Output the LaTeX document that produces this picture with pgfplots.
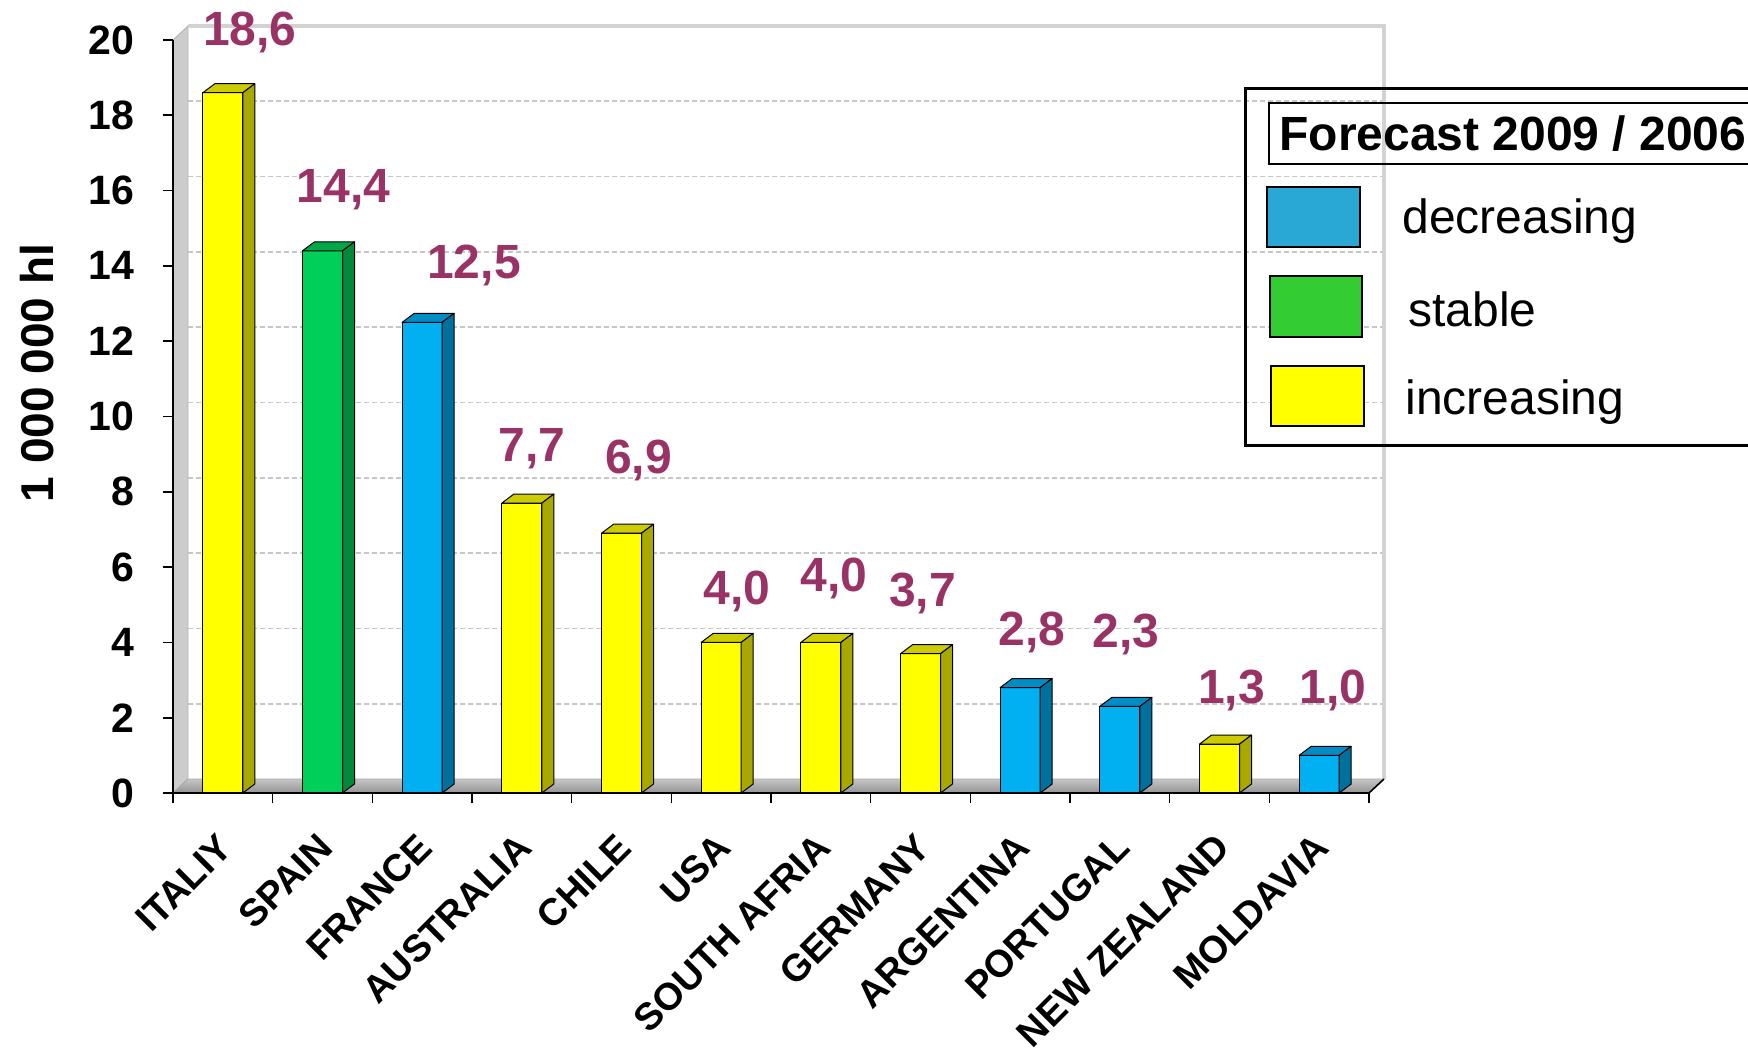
\documentclass[border=0pt]{standalone}
\usepackage{fontspec}
\setmainfont{Liberation Sans}
\usepackage{pgfplots}
\usepackage{pgfplotstable}
\pgfplotsset{compat=1.18}

\definecolor{yfront}{RGB}{255,255,0}
\definecolor{ytop}{RGB}{204,204,0}
\definecolor{yside}{RGB}{168,168,0}
\definecolor{gfront}{RGB}{0,208,90}
\definecolor{gtop}{RGB}{0,168,72}
\definecolor{gside}{RGB}{0,138,58}
\definecolor{bfront}{RGB}{0,176,240}
\definecolor{btop}{RGB}{0,140,196}
\definecolor{bside}{RGB}{0,112,156}
\definecolor{labc}{RGB}{153,51,102}
\definecolor{legb}{RGB}{41,168,214}
\definecolor{legg}{RGB}{51,204,51}

% top and side faces of a bar; height taken from the point meta (mapped 0..20 -> 0..1000)
\newcommand\defboxmark[3]{%
 \pgfdeclareplotmark{#1}{%
  \pgfmathsetmacro\hh{\pgfplotspointmetatransformed*0.3765}%
  \path[fill=#2,draw=black,line width=0.5pt,line join=round] (-10pt,0pt) -- (10pt,0pt) -- (16pt,4.5pt) -- (-4pt,4.5pt) -- cycle;
  \path[fill=#3,draw=black,line width=0.5pt,line join=round] (10pt,0pt) -- (16pt,4.5pt) -- (16pt,{4.5pt-\hh pt}) -- (10pt,{-\hh pt}) -- cycle;
 }}
\defboxmark{boxY}{ytop}{yside}
\defboxmark{boxG}{gtop}{gside}
\defboxmark{boxB}{btop}{bside}

\pgfplotstableread{
x v
0 18.6
3 7.7
4 6.9
5 4.0
6 4.0
7 3.7
10 1.3
}\yel
\pgfplotstableread{
x v
1 14.4
}\gre
\pgfplotstableread{
x v
2 12.5
8 2.8
9 2.3
11 1.0
}\blu
\pgfplotstableread{
x y label
0.27 20.20 18,6
1.21 16.02 14,4
2.52 14.02 12,5
3.10 9.14 7,7
4.17 8.84 6,9
5.16 5.35 4,0
6.13 5.71 4,0
7.02 5.29 3,7
8.12 4.26 2,8
9.06 4.21 2,3
10.12 2.72 1,3
11.14 2.72 1,0
}\labs

\begin{document}
\begin{tikzpicture}
\begin{axis}[
  scale only axis, width=598pt, height=376.5pt,
  xmin=-0.5, xmax=11.5, ymin=0, ymax=20,
  clip=false, axis on top,
  axis x line*=bottom, axis y line*=left,
  axis line style={black, line width=0.9pt},
  tick style={black, line width=0.8pt},
  tick align=outside, major tick length=5pt,
  xtick={-0.5,0.5,...,11.5},
  xticklabels={},
  extra x ticks={0,1,2,3,4,5,6,7,8,9,10,11},
  extra x tick labels={ITALIY,SPAIN,FRANCE,AUSTRALIA,CHILE,USA,SOUTH AFRIA,GERMANY,ARGENTINA,PORTUGAL,NEW ZEALAND,MOLDAVIA},
  extra x tick style={major tick length=0pt, tick style={draw=none}},
  xticklabel style={font=\bfseries\fontsize{19}{22}\selectfont, inner sep=0pt, xshift=1.5pt, yshift=-24pt, rotate=45, anchor=east},
  ytick={0,2,...,20},
  yticklabel style={font=\bfseries\fontsize{20.5}{24}\selectfont, inner sep=0pt, anchor=east, xshift=-14pt},
  /pgf/number format/assume math mode=true,
  ylabel={1 000 000 hl},
  ylabel style={font=\bfseries\fontsize{23}{26}\selectfont, at={(axis description cs:-0.1137,0.5578)}, anchor=center},
]
% walls and floor
\path[fill=gray!40, draw=gray!60, line width=0.4pt] (axis cs:-0.5,0) -- ([xshift=7.5pt,yshift=7pt]axis cs:-0.5,0) -- ([xshift=7.5pt,yshift=7pt]axis cs:-0.5,20) -- (axis cs:-0.5,20) -- cycle;
\path[top color=gray!45, bottom color=gray!85, draw=gray!70, line width=0.4pt] (axis cs:-0.5,0) -- (axis cs:11.5,0) -- ([xshift=7.5pt,yshift=7pt]axis cs:11.5,0) -- ([xshift=7.5pt,yshift=7pt]axis cs:-0.5,0) -- cycle;
\pgfplotsinvokeforeach{2,4,...,18}{
  \draw[gray!45, line width=0.8pt, dash pattern=on 2.5pt off 1.5pt] ([xshift=7.5pt,yshift=7pt]axis cs:-0.5,#1) -- ([xshift=7.5pt,yshift=7pt]axis cs:11.5,#1);
}
\draw[gray!35, line width=2pt] ([xshift=7.5pt,yshift=7pt]axis cs:-0.5,20) -- ([xshift=7.5pt,yshift=7pt]axis cs:11.5,20) -- ([xshift=7.5pt,yshift=7pt]axis cs:11.5,0);
\draw[black, line width=0.8pt] (axis cs:11.5,0) -- ([xshift=7.5pt,yshift=7pt]axis cs:11.5,0);

% 3D faces
\addplot[scatter, only marks, mark=boxY, point meta=y, point meta min=0, point meta max=20] table[x=x,y=v] {\yel};
\addplot[scatter, only marks, mark=boxG, point meta=y, point meta min=0, point meta max=20] table[x=x,y=v] {\gre};
\addplot[scatter, only marks, mark=boxB, point meta=y, point meta min=0, point meta max=20] table[x=x,y=v] {\blu};
% front faces
\addplot[ybar, bar width=20pt, bar shift=0pt, fill=yfront, draw=black, line width=0.5pt] table[x=x,y=v] {\yel};
\addplot[ybar, bar width=20pt, bar shift=0pt, fill=gfront, draw=black, line width=0.5pt] table[x=x,y=v] {\gre};
\addplot[ybar, bar width=20pt, bar shift=0pt, fill=bfront, draw=black, line width=0.5pt] table[x=x,y=v] {\blu};
% value labels
\addplot[draw=none, mark=none, nodes near coords, point meta=explicit symbolic,
  every node near coord/.style={anchor=center, inner sep=0pt, text=labc, font=\bfseries\fontsize{24}{28}\selectfont}]
  table[x=x,y=y,meta=label] {\labs};
\end{axis}

% legend
\draw[line width=1.5pt] (536pt,173.5pt) rectangle (830pt,352pt);
\draw[line width=0.8pt] (548pt,314.5pt) rectangle (830pt,345pt);
\node[anchor=west, inner sep=0pt, font=\bfseries\fontsize{24}{28}\selectfont] at (553pt,329.75pt) {Forecast 2009 / 2006};
\draw[fill=legb, line width=0.8pt] (547pt,273pt) rectangle (593.5pt,303pt);
\draw[fill=legg, line width=0.8pt] (548.5pt,228pt) rectangle (594.5pt,258.5pt);
\draw[fill=yfront, line width=0.8pt] (549pt,183.5pt) rectangle (595.5pt,213.5pt);
\node[anchor=west, inner sep=0pt, font=\fontsize{24}{28}\selectfont] at (614.5pt,286pt) {decreasing};
\node[anchor=west, inner sep=0pt, font=\fontsize{24}{28}\selectfont] at (617.5pt,242pt) {stable};
\node[anchor=west, inner sep=0pt, font=\fontsize{24}{28}\selectfont] at (616pt,195.5pt) {increasing};

\pgfresetboundingbox
\path[use as bounding box] (-86.5pt,-127.5pt) rectangle (787.5pt,396.5pt);
\end{tikzpicture}
\end{document}
